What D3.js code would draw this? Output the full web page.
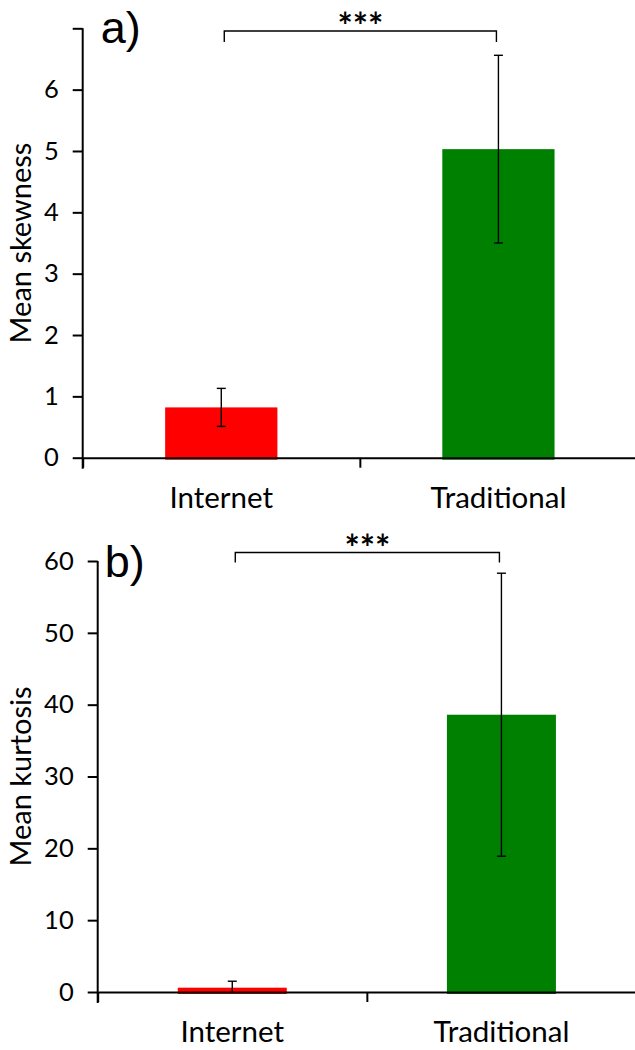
<!DOCTYPE html>
<html>
<head>
<meta charset="utf-8">
<script src="https://cdn.jsdelivr.net/npm/d3@7"></script>
<style>
  body { margin: 0; background: white; }
  svg { display: block; }
</style>
</head>
<body>
<div id="chart"></div>
<script>
// data
const categories = ["Internet", "Traditional"];
const barColors = ["#ff0000", "#008000"];

const skewMeans = [0.82, 5.03];
const skewErrors = [0.31, 1.53];
const skewTicks = [0, 1, 2, 3, 4, 5, 6, 7];
const skewLabelledTicks = [0, 1, 2, 3, 4, 5, 6];

const kurtMeans = [0.6, 38.6];
const kurtErrors = [0.9, 19.7];
const kurtTicks = [0, 10, 20, 30, 40, 50, 60];

const panelLabels = ["a)", "b)"];
const yTitles = ["Mean skewness", "Mean kurtosis"];
const sigLabels = ["***", "***"];

const W = 635, H = 1050;
const font = "Lato, 'Open Sans', sans-serif";

// layout of each panel (pixels)
const panels = [
    { means: skewMeans, errs: skewErrors, ticks: skewTicks, shown: skewLabelledTicks,
      max: 7, top: 28.3, zero: 457.7, left: 82.7, right: 637,
      label: panelLabels[0], title: yTitles[0], sig: sigLabels[0],
      labelDx: 18, labelY: 43, bracketDy: 2.7, bracketDrop: 11 },
    { means: kurtMeans, errs: kurtErrors, ticks: kurtTicks, shown: kurtTicks,
      max: 60, top: 561, zero: 992, left: 97.7, right: 636,
      label: panelLabels[1], title: yTitles[1], sig: sigLabels[1],
      labelDx: 7, labelY: 577, bracketDy: -8.5, bracketDrop: 10 }
];

const svg = d3.select("#chart")
    .append("svg")
    .attr("width", W)
    .attr("height", H)
    .style("background-color", "white");

panels.forEach(p => {
    const g = svg.append("g");

    const y = d3.scaleLinear().domain([0, p.max]).range([p.zero, p.top]);
    const x = d3.scaleBand()
        .domain(categories)
        .range([p.left, p.right])
        .paddingInner(0.595)
        .paddingOuter(0.2975);
    const xEdge = d3.scaleLinear().domain([0, categories.length]).range([p.left, p.right]);

    // bars (they poke a little under the axis line, as in the original)
    g.selectAll("rect.bar")
        .data(categories)
        .join("rect")
        .attr("class", "bar")
        .attr("x", d => x(d))
        .attr("width", x.bandwidth())
        .attr("y", (d, i) => y(p.means[i]))
        .attr("height", (d, i) => y(0) - y(p.means[i]) + 2)
        .style("fill", (d, i) => barColors[i]);

    // y axis
    const yAxis = d3.axisLeft(y)
        .tickValues(p.ticks)
        .tickSize(10)
        .tickPadding(14)
        .tickFormat(d => p.shown.includes(d) ? d : "");
    const ya = g.append("g")
        .attr("transform", "translate(" + p.left + ",0)")
        .call(yAxis);
    ya.select(".domain").attr("d", "M0," + (y(0) + 11) + "V" + y(p.max));

    // x axis with ticks on category boundaries
    const xAxis = d3.axisBottom(xEdge)
        .tickValues(d3.range(categories.length + 1))
        .tickSize(10)
        .tickSizeOuter(0)
        .tickFormat("");
    g.append("g")
        .attr("transform", "translate(0," + y(0) + ")")
        .call(xAxis);

    g.selectAll(".domain, .tick line")
        .style("stroke", "#000")
        .style("stroke-width", 2);
    g.selectAll(".tick text")
        .style("font-family", font)
        .style("font-size", "25.5px")
        .style("fill", "#000");

    // category labels
    g.selectAll("text.cat")
        .data(categories)
        .join("text")
        .attr("class", "cat")
        .attr("x", d => x(d) + x.bandwidth() / 2)
        .attr("y", y(0) + 50)
        .attr("text-anchor", "middle")
        .style("font-family", font)
        .style("font-size", "29.5px")
        .text(d => d);

    // error bars
    const cap = 4.5;
    categories.forEach((c, i) => {
        const cx = x(c) + x.bandwidth() / 2;
        const hi = p.means[i] + p.errs[i];
        const lo = Math.max(0, p.means[i] - p.errs[i]);
        const eb = g.append("g").style("stroke", "#000").style("stroke-width", 1.4);
        eb.append("line").attr("x1", cx).attr("x2", cx).attr("y1", y(hi)).attr("y2", y(lo));
        eb.append("line").attr("x1", cx - cap).attr("x2", cx + cap).attr("y1", y(hi)).attr("y2", y(hi));
        if (p.means[i] - p.errs[i] > 0) {
            eb.append("line").attr("x1", cx - cap).attr("x2", cx + cap).attr("y1", y(lo)).attr("y2", y(lo));
        }
    });

    // significance bracket
    const bx1 = x(categories[0]) + x.bandwidth() / 2 + 3;
    const bx2 = x(categories[1]) + x.bandwidth() / 2 - 2;
    const by = y(p.max) + p.bracketDy;
    g.append("path")
        .attr("d", "M" + bx1 + "," + (by + p.bracketDrop) + "V" + by + "H" + bx2 + "V" + (by + p.bracketDrop))
        .style("fill", "none")
        .style("stroke", "#000")
        .style("stroke-width", 1.4);
    g.append("text")
        .attr("x", (bx1 + bx2) / 2)
        .attr("y", by + 8)
        .attr("text-anchor", "middle")
        .style("font-family", font)
        .style("font-weight", "bold")
        .style("font-size", "36px")
        .text(p.sig);

    // panel letter
    g.append("text")
        .attr("x", p.left + p.labelDx)
        .attr("y", p.labelY)
        .style("font-family", "'Liberation Sans', Arial, sans-serif")
        .style("font-size", "45px")
        .text(p.label);

    // y title
    g.append("text")
        .attr("transform", "translate(" + 31 + "," + (y(0) + y(p.max)) / 2 + ") rotate(-90)")
        .attr("text-anchor", "middle")
        .style("font-family", font)
        .style("font-size", "29px")
        .text(p.title);
});
</script>
</body>
</html>
